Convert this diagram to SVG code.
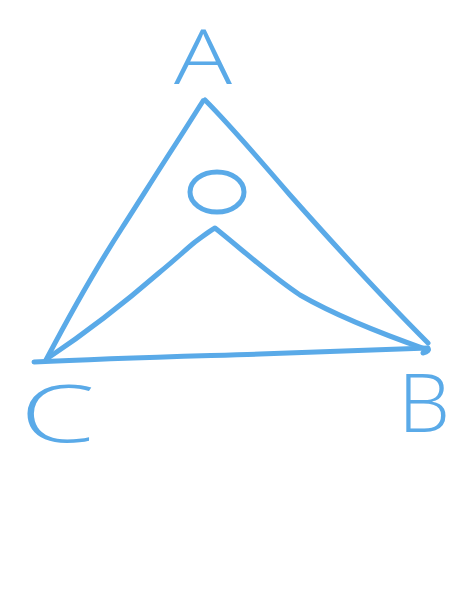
<svg xmlns="http://www.w3.org/2000/svg" width="474" height="592" viewBox="0 0 474 592">
<style>
.s{fill:none;stroke:#5aaae8;stroke-width:5;stroke-linecap:round;stroke-linejoin:round}
.t{fill:#5aaae8;font-family:"Open Sans","DejaVu Sans",sans-serif;font-weight:300}
</style>
<rect width="474" height="592" fill="#ffffff"/>
<g id="triangle">
<path class="s" d="M203,101 C196,112 186,128 175,145 C160,168 140,200 122,228 C100,262 75,305 46,360"/>
<path class="s" d="M205,100 C230,125 260,160 290,195 C330,240 375,290 428,343"/>
<path class="s" d="M34,362 C120,358 200,356 260,354 C320,352 380,350 428,348 C429,350 428,352 423,353"/>
<path class="s" d="M48,358 C90,330 130,298 160,272 C175,260 185,250 195,242 C202,237 208,232 215,228 C245,252 270,275 300,295 C340,318 385,335 428,350"/>
<ellipse class="s" cx="217" cy="192" rx="27" ry="20"/>
</g>
<g id="A"><text class="t" x="174" y="84" font-size="76" textLength="58" lengthAdjust="spacingAndGlyphs">A</text></g>
<g id="B"><text class="t" x="398" y="432" font-size="82" textLength="52" lengthAdjust="spacingAndGlyphs">B</text></g>
<g id="C"><text class="t" x="20" y="442" font-size="80" textLength="75" lengthAdjust="spacingAndGlyphs">C</text></g>
</svg>
